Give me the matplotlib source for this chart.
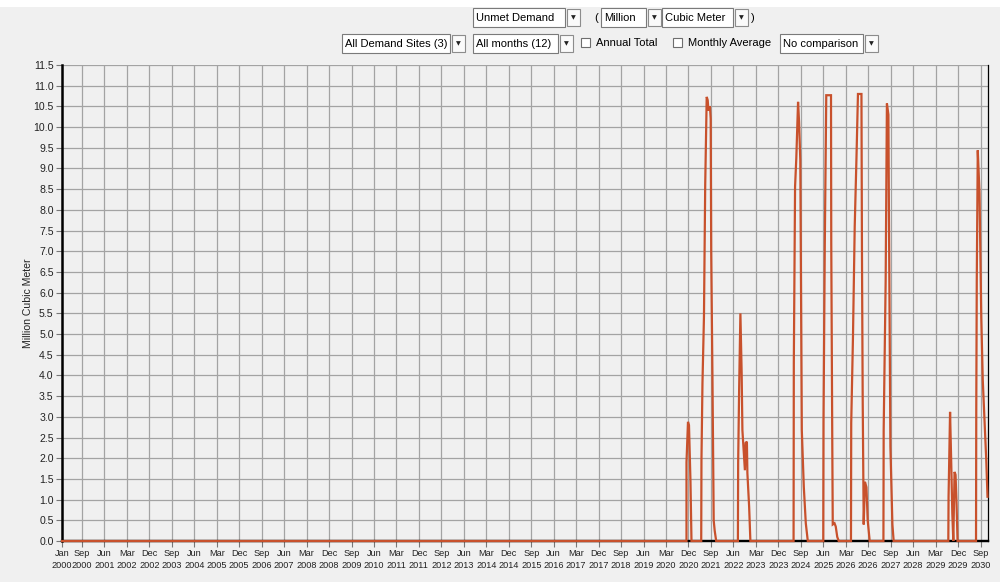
import datetime
import matplotlib
matplotlib.use("Agg")
import matplotlib.pyplot as plt
from matplotlib.patches import Rectangle

plt.rcParams['font.family'] = ['Liberation Sans', 'DejaVu Sans']

# unmet demand, months counted from Jan 2000 (monthly steps, with sub-month detail)
t_month = [
    0, 250.2,
    250.2, 250.8, 251.2, 251.8, 252.2,
    256.1, 256.2, 256.6, 257.2, 257.7, 258.3, 258.7, 259.0, 259.6, 259.9, 260.1, 260.6, 261.1, 261.5, 262.1,
    270.8, 270.9, 271.3, 271.8, 272.3, 272.6, 273.6, 273.9, 274.4, 274.6, 275.3, 275.8,
    293.1, 293.2, 293.7, 294.2, 294.9, 295.3, 295.8, 296.4, 297.2, 298.0, 298.8,
    305.0, 305.1, 305.6, 306.2, 308.1, 308.2, 308.6, 308.8, 309.5, 310.0, 310.6, 311.2,
    316.1, 316.2, 316.9, 317.6, 318.3, 318.9, 320.3, 320.5, 320.8, 321.2, 321.7, 322.3, 322.8, 323.6,
    329.1, 329.2, 330.0, 330.5, 331.1, 331.3, 331.9, 332.7, 333.2,
    355.1, 355.2, 355.5, 355.8, 356.3, 356.7, 357.1, 357.6, 358.0, 358.4, 358.8,
    366.2, 366.3, 366.5, 366.9, 367.6, 368.3, 368.9, 369.6, 370.3, 370.8,
]
unmet = [
    0, 0,
    1.9, 2.88, 2.8, 1.43, 0,
    0, 1.96, 3.81, 5.42, 8.6, 10.73, 10.65, 10.4, 10.5, 10.2, 7.03, 3.97, 0.5, 0.25, 0,
    0, 1.88, 3.7, 5.5, 4.06, 2.68, 1.71, 2.37, 2.4, 1.64, 0.83, 0,
    0, 4.3, 8.56, 9.25, 10.61, 10.13, 9.2, 2.68, 1.31, 0.43, 0,
    0, 2.9, 7.1, 10.77, 10.77, 7.2, 2.5, 0.4, 0.43, 0.35, 0.1, 0,
    0, 2.85, 4.93, 7.6, 9.25, 10.8, 10.8, 7.0, 3.4, 0.4, 1.43, 1.3, 0.5, 0,
    0, 2.68, 6.3, 10.57, 10.3, 8.0, 2.28, 0.4, 0,
    0, 1.07, 2.08, 3.12, 1.8, 0.67, 0, 1.67, 1.6, 0.9, 0,
    0, 3.16, 6.3, 9.44, 8.4, 5.42, 3.89, 2.92, 1.96, 1.07,
]
# the other demand sites have no unmet demand
other_t = [0, 371]
other_sites = [0, 0]

tick_months = [0] + list(range(8, 371, 9))
y_ticks = [i * 0.5 for i in range(24)]

RED = '#c8512c'
GRID = '#a3a3a3'
BG = '#f0f0f0'

fig = plt.figure(figsize=(10, 5.82), dpi=100, facecolor=BG)
ax = fig.add_axes([0.062, 0.0704, 0.926, 0.8179], facecolor=BG)

ax.plot(other_t, other_sites, color='black', lw=1.6, zorder=3, clip_on=False)
ax.plot(other_t, other_sites, color='black', lw=1.6, zorder=3, clip_on=False)
ax.plot(t_month, unmet, color=RED, lw=1.6, zorder=4, solid_joinstyle='miter', clip_on=False)

ax.set_xlim(0, 371)
ax.set_ylim(0, 11.5)

labels = []
for m in tick_months:
    d = datetime.date(2000 + m // 12, m % 12 + 1, 1)
    labels.append(d.strftime('%b') + '\n' + str(d.year))
ax.set_xticks(tick_months)
ax.set_xticklabels(labels, fontsize=6.6, color='#222222', linespacing=1.35)
ax.set_yticks(y_ticks)
ax.set_yticklabels(['%.1f' % v for v in y_ticks], fontsize=7.6, color='#222222')
ax.tick_params(axis='both', direction='out', length=4, width=0.8, color='#777777', pad=2)

ax.grid(True, color=GRID, lw=0.9)
ax.set_axisbelow(True)

ax.spines['top'].set_visible(False)
ax.spines['left'].set_color('black')
ax.spines['left'].set_linewidth(1.8)
ax.spines['right'].set_color('black')
ax.spines['right'].set_linewidth(0.9)
ax.spines['bottom'].set_color(GRID)

ax.set_ylabel('Million Cubic Meter', fontsize=7.6, color='#222222')
ax.yaxis.set_label_coords(-0.031, 0.5)

# selector bar above the chart
ui = fig.add_axes([0, 0, 1, 1], facecolor='none')
ui.set_xlim(0, 1000)
ui.set_ylim(582, 0)
ui.axis('off')

ui.add_patch(Rectangle((0, 0), 1000, 7, facecolor='white', edgecolor='none'))

UI_FS = 8.0


def combo(x0, x1, y0, y1, text):
    ui.add_patch(Rectangle((x0, y0), x1 - x0, y1 - y0, facecolor='white',
                           edgecolor='#7a7a7a', lw=0.8))
    ui.text(x0 + 3, (y0 + y1) / 2 + 0.5, text, fontsize=UI_FS, va='center', ha='left', color='black')
    bx = x1 + 2
    ui.add_patch(Rectangle((bx, y0 + 1), 13, y1 - y0 - 2, facecolor='#fafafa',
                           edgecolor='#8c8c8c', lw=0.8))
    ui.text(bx + 6.5, (y0 + y1) / 2 + 0.5, '▼', fontsize=4.5, va='center', ha='center',
            color='#222222', family='DejaVu Sans')


def checkbox(x0, y0, text):
    ui.add_patch(Rectangle((x0, y0), 9, 9, facecolor='white', edgecolor='#6e6e6e', lw=0.8))
    ui.text(x0 + 15, y0 + 5, text, fontsize=UI_FS, va='center', ha='left', color='black')


combo(473, 565, 8, 27, 'Unmet Demand')
ui.text(594, 18, '(', fontsize=UI_FS, va='center', ha='left')
combo(601, 646, 8, 27, 'Million')
combo(662, 733, 8, 27, 'Cubic Meter')
ui.text(751, 18, ')', fontsize=UI_FS, va='center', ha='left')

combo(342, 450, 34, 53, 'All Demand Sites (3)')
combo(473, 558, 34, 53, 'All months (12)')
checkbox(581, 38, 'Annual Total')
checkbox(673, 38, 'Monthly Average')
combo(780, 863, 34, 53, 'No comparison')

fig.savefig('out.png', dpi=100, facecolor=BG)
